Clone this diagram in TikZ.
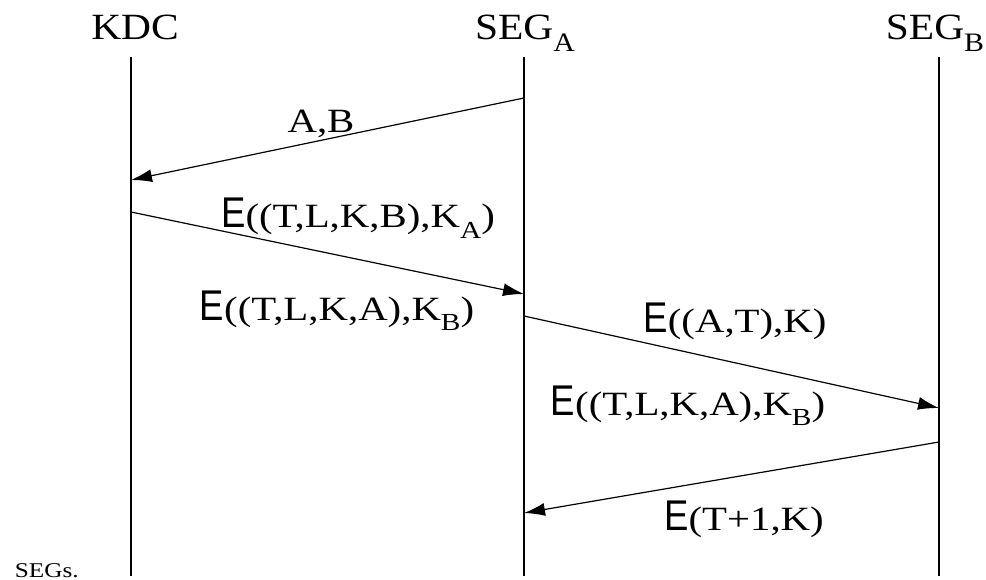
\documentclass[tikz,border=0pt]{standalone}
\usepackage{fontspec}
\setmainfont[FakeStretch=1.2]{Liberation Serif}
\newfontfamily\headfont[FakeStretch=1.12]{Liberation Serif}
\newfontfamily\esans[FakeStretch=0.85]{Liberation Sans}
\usetikzlibrary{arrows.meta}
\newcommand{\lowsub}[1]{\raisebox{-0.65ex}{\scalebox{0.72}{#1}}}
\newcommand{\enc}{{\esans\fontsize{43}{46}\selectfont E}}
\tikzset{
  head/.style={anchor=base,font=\headfont\fontsize{37}{40}\selectfont},
  msg/.style={anchor=base,font=\fontsize{34}{38}\selectfont},
  life/.style={line width=1.3pt},
}

\begin{document}
\begin{tikzpicture}[x=1pt,y=-1pt,>={Latex[length=21pt,width=13pt]},line width=1.2pt]
        \useasboundingbox (0,0) rectangle (986,580);
        % parties and their lifelines
        \node[head] (kdc) at (135,40){KDC};
        \node[head] (sega) at (525,40){SEG\lowsub{A}};
        \node[head] (segb) at (935,40){SEG\lowsub{B}};
        \draw[life] (131,57)coordinate(kdctop) -- (131,576)coordinate(kdcbot);
        \draw[life] (524,57)coordinate(segatop) -- (524,576)coordinate(segabot);
        \draw[life] (939,57)coordinate(segbtop) -- (939,576)coordinate(segbbot);
        % message end points
        \coordinate (a1) at (524,98);   \coordinate (k1) at (131,180);
        \coordinate (k2) at (131,212);  \coordinate (a2) at (524,294);
        \coordinate (a3) at (524,316);  \coordinate (b3) at (939,408);
        \coordinate (b4) at (939,442);  \coordinate (a4) at (524,513);
        \draw[->] (a1) -- (k1);
        \draw[->] (k2) -- (a2);
        \draw[->] (a3) -- (b3);
        \draw[->] (b4) -- (a4);
        % message contents
        \node[msg] (m1) at (321,133){A,B};
        \node[msg] (m2) at (358,228){\enc((T,L,K,B),K\lowsub{A})};
        \node[msg] (m3) at (337,320){\enc((T,L,K,A),K\lowsub{B})};
        \node[msg] (m4) at (735,332){\enc((A,T),K)};
        \node[msg] (m5) at (688,415){\enc((T,L,K,A),K\lowsub{B})};
        \node[msg] (m6) at (744,530){\enc(T+1,K)};
        \node[anchor=base west,font=\fontsize{21}{24}\selectfont] (cap) at (11,577){SEGs.};
\end{tikzpicture}
\end{document}
